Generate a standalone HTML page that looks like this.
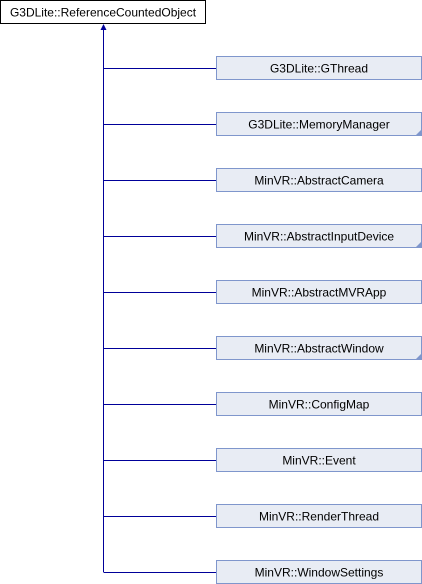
<!DOCTYPE html>
<html><head><meta charset="utf-8"><style>html,body{margin:0;padding:0;background:#fff}svg{display:block}</style></head>
<body>
<svg width="422" height="584" viewBox="0 0 422 584" xmlns="http://www.w3.org/2000/svg" font-family="Liberation Sans, sans-serif" font-size="12">
<rect x="0.5" y="0.5" width="205" height="23" fill="#fff" stroke="#000"/>
<text x="103" y="16.5" text-anchor="middle">G3DLite::ReferenceCountedObject</text>
<line x1="103.5" y1="28" x2="103.5" y2="572" stroke="#000099" stroke-width="1"/>
<polygon points="103.5,24 100.5,30 106.5,30" fill="#000099"/>
<g>
<line x1="103.5" y1="68.5" x2="216" y2="68.5" stroke="#000099"/>
<rect x="216.5" y="56.5" width="205" height="23" fill="#e8ecf4" stroke="#7f96cc"/>
<text x="319" y="72.5" text-anchor="middle">G3DLite::GThread</text>

<line x1="103.5" y1="124.5" x2="216" y2="124.5" stroke="#000099"/>
<rect x="216.5" y="112.5" width="205" height="23" fill="#e8ecf4" stroke="#7f96cc"/>
<polygon points="421,130 421,135 416,135" fill="#7f96cc"/>
<text x="319" y="128.5" text-anchor="middle">G3DLite::MemoryManager</text>

<line x1="103.5" y1="180.5" x2="216" y2="180.5" stroke="#000099"/>
<rect x="216.5" y="168.5" width="205" height="23" fill="#e8ecf4" stroke="#7f96cc"/>
<text x="319" y="184.5" text-anchor="middle">MinVR::AbstractCamera</text>

<line x1="103.5" y1="236.5" x2="216" y2="236.5" stroke="#000099"/>
<rect x="216.5" y="224.5" width="205" height="23" fill="#e8ecf4" stroke="#7f96cc"/>
<polygon points="421,242 421,247 416,247" fill="#7f96cc"/>
<text x="319" y="240.5" text-anchor="middle">MinVR::AbstractInputDevice</text>

<line x1="103.5" y1="292.5" x2="216" y2="292.5" stroke="#000099"/>
<rect x="216.5" y="280.5" width="205" height="23" fill="#e8ecf4" stroke="#7f96cc"/>
<text x="319" y="296.5" text-anchor="middle">MinVR::AbstractMVRApp</text>

<line x1="103.5" y1="348.5" x2="216" y2="348.5" stroke="#000099"/>
<rect x="216.5" y="336.5" width="205" height="23" fill="#e8ecf4" stroke="#7f96cc"/>
<polygon points="421,354 421,359 416,359" fill="#7f96cc"/>
<text x="319" y="352.5" text-anchor="middle">MinVR::AbstractWindow</text>

<line x1="103.5" y1="404.5" x2="216" y2="404.5" stroke="#000099"/>
<rect x="216.5" y="392.5" width="205" height="23" fill="#e8ecf4" stroke="#7f96cc"/>
<text x="319" y="408.5" text-anchor="middle">MinVR::ConfigMap</text>

<line x1="103.5" y1="460.5" x2="216" y2="460.5" stroke="#000099"/>
<rect x="216.5" y="448.5" width="205" height="23" fill="#e8ecf4" stroke="#7f96cc"/>
<text x="319" y="464.5" text-anchor="middle">MinVR::Event</text>

<line x1="103.5" y1="516.5" x2="216" y2="516.5" stroke="#000099"/>
<rect x="216.5" y="504.5" width="205" height="23" fill="#e8ecf4" stroke="#7f96cc"/>
<text x="319" y="520.5" text-anchor="middle">MinVR::RenderThread</text>

<line x1="103.5" y1="572.5" x2="216" y2="572.5" stroke="#000099"/>
<rect x="216.5" y="560.5" width="205" height="23" fill="#e8ecf4" stroke="#7f96cc"/>
<text x="319" y="576.5" text-anchor="middle">MinVR::WindowSettings</text>
</g>
</svg>
</body></html>
